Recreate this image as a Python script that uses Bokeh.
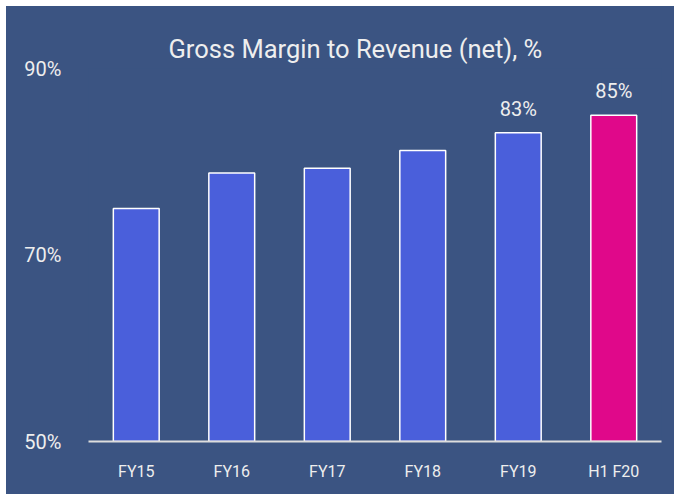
from bokeh.plotting import figure
from bokeh.models import ColumnDataSource, FixedTicker, CustomJSTickFormatter, LabelSet
from bokeh.core.properties import value
from bokeh.embed import file_html
from bokeh.resources import INLINE

categories = ["FY15", "FY16", "FY17", "FY18", "FY19", "H1 F20"]
values = [75.0, 78.8, 79.3, 81.2, 83.1, 85.0]
value_labels = ["", "", "", "", "83%", "85%"]
bar_colors = ["#4A5FDB", "#4A5FDB", "#4A5FDB", "#4A5FDB", "#4A5FDB", "#E0088A"]
y_ticks = [50, 70, 90]

BG = "#3B5482"
TXT = "#EEEEEE"
FONT = "Roboto"

src = ColumnDataSource(dict(cat=categories, val=values, lab=value_labels, color=bar_colors))

p = figure(x_range=categories, y_range=(50, 90), width=668, height=488,
           output_backend="svg", toolbar_location=None,
           background_fill_color=BG, border_fill_color=BG,
           min_border_left=82, min_border_right=13, min_border_top=62, min_border_bottom=53)
p.margin = (6, 0, 0, 6)
p.styles = {"background-color": BG}
p.outline_line_color = None
p.grid.visible = False

p.title.text = "Gross Margin to Revenue (net), %"
p.title.text_font = FONT
p.title.text_font_size = "25.5px"
p.title.text_font_style = "normal"
p.title.text_color = TXT
p.title.align = "left"
p.title.offset = 80

p.vbar(x="cat", top="val", bottom=50, width=0.48, source=src,
       fill_color="color", line_color="white", line_width=1.5)

labels = LabelSet(x="cat", y="val", text="lab", source=src, text_align="center",
                  text_baseline="alphabetic", y_offset=17, text_color=TXT,
                  text_font=value(FONT), text_font_size="20px")
p.add_layout(labels)

p.yaxis.ticker = FixedTicker(ticks=y_ticks)
p.yaxis.formatter = CustomJSTickFormatter(code="return tick + '%';")
p.yaxis.axis_line_color = None
p.yaxis.major_tick_line_color = None
p.yaxis.minor_tick_line_color = None
p.yaxis.major_label_standoff = 21
p.yaxis.major_label_text_font = FONT
p.yaxis.major_label_text_font_size = "20px"
p.yaxis.major_label_text_color = TXT

p.xaxis.axis_line_color = "#DDDDDD"
p.xaxis.axis_line_width = 2
p.xaxis.major_tick_line_color = None
p.xaxis.minor_tick_line_color = None
p.xaxis.major_label_standoff = 14
p.xaxis.major_label_text_font = FONT
p.xaxis.major_label_text_font_size = "16px"
p.xaxis.major_label_text_color = TXT

open("out.html", "w").write(file_html(p, INLINE))
